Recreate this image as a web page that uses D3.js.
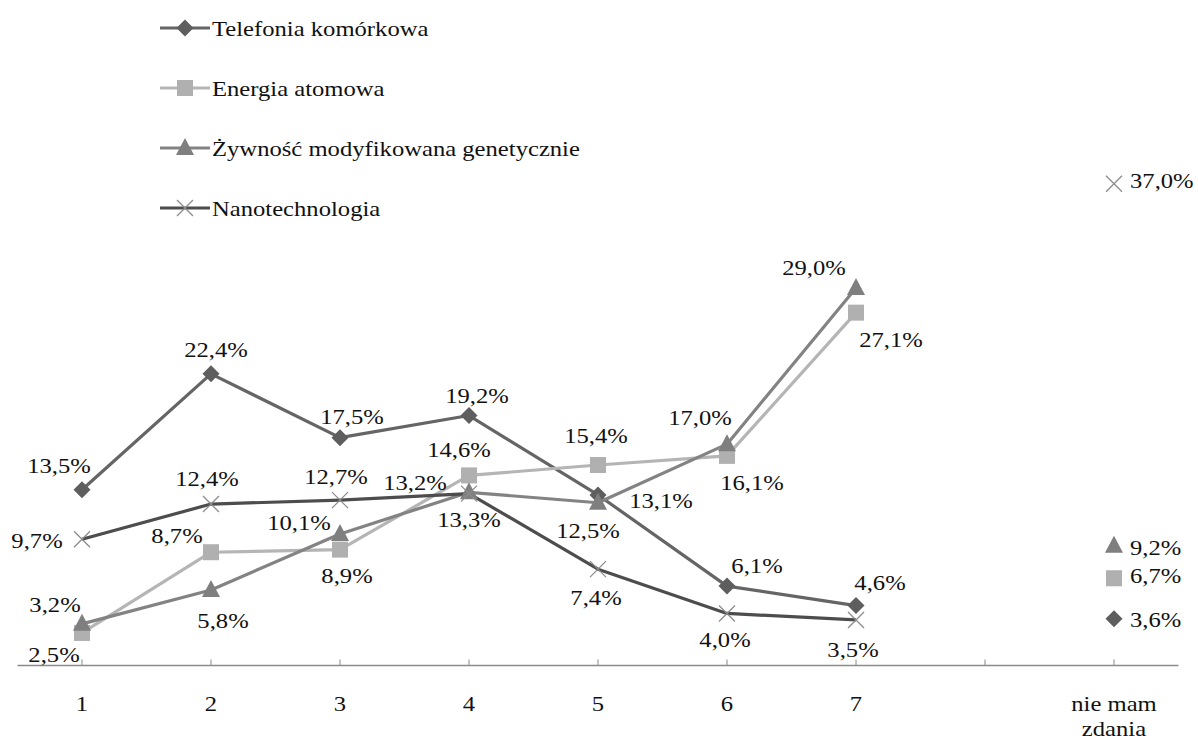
<!DOCTYPE html>
<html>
<head>
<meta charset="utf-8">
<script src="https://cdn.jsdelivr.net/npm/d3@7"></script>
<style>
  html, body { margin: 0; padding: 0; background: #ffffff; }
  svg { display: block; }
</style>
</head>
<body>
<svg id="chart" width="1198" height="740"></svg>
<script>
// Answer categories on the horizontal axis (empty slot separates the scale from "no opinion")
const categories = ["1", "2", "3", "4", "5", "6", "7", "", "nie mam zdania"];

// Share of answers (%) per technology
const telefonia = [13.5, 22.4, 17.5, 19.2, 13.1, 6.1, 4.6, null, 3.6];
const energia   = [2.5, 8.7, 8.9, 14.6, 15.4, 16.1, 27.1, null, 6.7];
const zywnosc   = [3.2, 5.8, 10.1, 13.3, 12.5, 17.0, 29.0, null, 9.2];
const nano      = [9.7, 12.4, 12.7, 13.2, 7.4, 4.0, 3.5, null, 37.0];

const seriesNames = [
  "Telefonia komórkowa",
  "Energia atomowa",
  "Żywność modyfikowana genetycznie",
  "Nanotechnologia"
];

// Label offsets (dx, dy) from each point, per series
const offTelefonia = [[-23,-17],[5,-17],[12,-14],[8,-13],[63,13],[30,-13],[24,-16],null,[42,8]];
const offEnergia   = [[-28,29],[-34,-9],[7,33],[-10,-18],[-2,-22],[25,34],[35,34],null,[42,5]];
const offZywnosc   = [[-27,-12],[12,38],[-41,-4],[0,35],[-10,35],[-27,-19],[-42,-13],null,[42,9]];
const offNano      = [[-45,9],[-4,-18],[-4,-16],[-54,-4],[-2,36],[-2,34],[-3,37],null,[49,4]];

const series = [
  { name: seriesNames[0], values: telefonia, offsets: offTelefonia, line: "#656565", marker: "diamond", mcolor: "#5e5e5e" },
  { name: seriesNames[1], values: energia,   offsets: offEnergia,   line: "#b5b5b5", marker: "square",  mcolor: "#b0b0b0" },
  { name: seriesNames[2], values: zywnosc,   offsets: offZywnosc,   line: "#838383", marker: "triangle", mcolor: "#7f7f7f" },
  { name: seriesNames[3], values: nano,      offsets: offNano,      line: "#4d4d4d", marker: "cross",   mcolor: "#8c8c8c" }
];

const svg = d3.select("#chart");
const FONT = "\"Liberation Serif\", serif";
const textScaleX = 1.12;
const fontSize = 22;

const x = d3.scaleBand().domain(categories.map((c, i) => i)).range([17.5, 1178.5]).padding(0);
const cx = i => x(i) + x.bandwidth() / 2;
const y = d3.scaleLinear().domain([0, 40]).range([665.5, 144.7]);

// Horizontal axis with upward ticks at category centres
const axisY = y(0);
const axisG = svg.append("g");
axisG.append("line")
  .attr("x1", 17.5).attr("x2", 1178.5)
  .attr("y1", axisY).attr("y2", axisY)
  .attr("stroke", "#8a8a8a").attr("stroke-width", 1.5);
axisG.selectAll("line.tick")
  .data(categories.map((c, i) => i))
  .join("line")
  .attr("class", "tick")
  .attr("x1", d => cx(d)).attr("x2", d => cx(d))
  .attr("y1", axisY).attr("y2", axisY - 6)
  .attr("stroke", "#8a8a8a").attr("stroke-width", 1);

function stretchedText(g, str, px, py, anchor) {
  return g.append("text")
    .attr("transform", `translate(${px},${py}) scale(${textScaleX},1)`)
    .attr("text-anchor", anchor || "middle")
    .attr("font-family", FONT)
    .attr("font-size", fontSize)
    .attr("fill", "#111111")
    .text(str);
}

categories.forEach((c, i) => {
  if (!c) return;
  if (c === "nie mam zdania") {
    stretchedText(axisG, "nie mam", cx(i), 711);
    stretchedText(axisG, "zdania", cx(i), 736);
  } else {
    stretchedText(axisG, c, cx(i), 711);
  }
});

// Marker shapes
function drawMarker(g, type, px, py, color) {
  if (type === "diamond") {
    g.append("path")
      .attr("d", `M${px},${py - 8.5}L${px + 8.5},${py}L${px},${py + 8.5}L${px - 8.5},${py}Z`)
      .attr("fill", color);
  } else if (type === "square") {
    g.append("rect")
      .attr("x", px - 8).attr("y", py - 8).attr("width", 16).attr("height", 16)
      .attr("fill", color);
  } else if (type === "triangle") {
    g.append("path")
      .attr("d", `M${px},${py - 10}L${px + 9},${py + 7}L${px - 9},${py + 7}Z`)
      .attr("fill", color);
  } else if (type === "cross") {
    g.append("path")
      .attr("d", `M${px - 8},${py - 8}L${px + 8},${py + 8}M${px - 8},${py + 8}L${px + 8},${py - 8}`)
      .attr("stroke", color).attr("stroke-width", 1.3).attr("fill", "none");
  }
}

const fmt = v => v.toFixed(1).replace(".", ",") + "%";

const line = d3.line()
  .defined(d => d.v != null)
  .x(d => cx(d.i))
  .y(d => y(d.v));

const linesG = svg.append("g");
const marksG = svg.append("g");
const labelsG = svg.append("g");

series.forEach(s => {
  const pts = s.values.map((v, i) => ({ v, i }));
  linesG.append("path")
    .datum(pts)
    .attr("d", line)
    .attr("fill", "none")
    .attr("stroke", s.line)
    .attr("stroke-width", 3.2)
    .attr("stroke-linejoin", "round");
});

series.forEach(s => {
  const g = marksG.append("g");
  s.values.forEach((v, i) => {
    if (v == null) return;
    drawMarker(g, s.marker, cx(i), y(v), s.mcolor);
  });
});

series.forEach(s => {
  s.values.forEach((v, i) => {
    if (v == null) return;
    const o = s.offsets[i];
    const last = i === categories.length - 1;
    if (last) {
      stretchedText(labelsG, fmt(v), cx(i) + 16, y(v) + o[1], "start");
    } else {
      stretchedText(labelsG, fmt(v), cx(i) + o[0], y(v) + o[1], "middle");
    }
  });
});

// Legend
const legendRows = [28, 88, 148, 208];
const legendG = svg.append("g");
series.forEach((s, k) => {
  const ly = legendRows[k];
  legendG.append("line")
    .attr("x1", 160).attr("x2", 210).attr("y1", ly).attr("y2", ly)
    .attr("stroke", s.line).attr("stroke-width", 3.2);
  drawMarker(legendG, s.marker, 185, ly, s.mcolor);
  stretchedText(legendG, s.name, 212, ly + 7.5, "start");
});
</script>
</body>
</html>
